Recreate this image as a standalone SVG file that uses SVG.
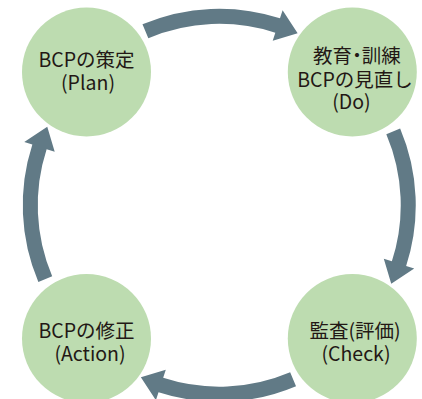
<svg xmlns="http://www.w3.org/2000/svg" xmlns:xlink="http://www.w3.org/1999/xlink" width="422" height="399" viewBox="0 0 422 399">
<style>
.node{fill:#bddcb0}
.lbl{font-family:"Noto Sans CJK JP","Noto Sans",sans-serif;font-size:19.5px;fill:#231815;text-anchor:middle}
.palt{font-feature-settings:"palt"}
.arr{fill:#617a86}
</style>
<defs>
<path id="arrow" class="arr" d="M142.48,24.37 A196.5,196.5 0 0 1 279.97,18.36 L282.6,10.27 L297.63,33.26 L272.71,40.71 L275.33,32.63 A181.5,181.5 0 0 0 148.34,38.18 Z"/>
</defs>
<rect width="422" height="399" fill="#ffffff"/>
<g id="connectors">
<use xlink:href="#arrow"/>
<use xlink:href="#arrow" transform="rotate(90 219.25 205.25)"/>
<use xlink:href="#arrow" transform="rotate(180 219.25 205.25)"/>
<use xlink:href="#arrow" transform="rotate(270 219.25 205.25)"/>
</g>
<g id="plan">
<circle class="node" cx="86.5" cy="72" r="64.5"/>
<text class="lbl" x="86.5" y="67">BCPの策定</text>
<text class="lbl" x="88" y="90">(Plan)</text>
</g>
<g id="do">
<circle class="node" cx="352.3" cy="72" r="64.5"/>
<text class="lbl palt" x="357" y="63">教育・訓練</text>
<text class="lbl" x="355" y="86.5">BCPの見直し</text>
<text class="lbl" x="351.5" y="109">(Do)</text>
</g>
<g id="check">
<circle class="node" cx="352.3" cy="338.5" r="64.5"/>
<text class="lbl" x="355" y="338">監査(評価)</text>
<text class="lbl" x="356" y="360.5">(Check)</text>
</g>
<g id="action">
<circle class="node" cx="86.5" cy="338.5" r="64.5"/>
<text class="lbl" x="86.5" y="338">BCPの修正</text>
<text class="lbl" x="90" y="360.5">(Action)</text>
</g>
</svg>
